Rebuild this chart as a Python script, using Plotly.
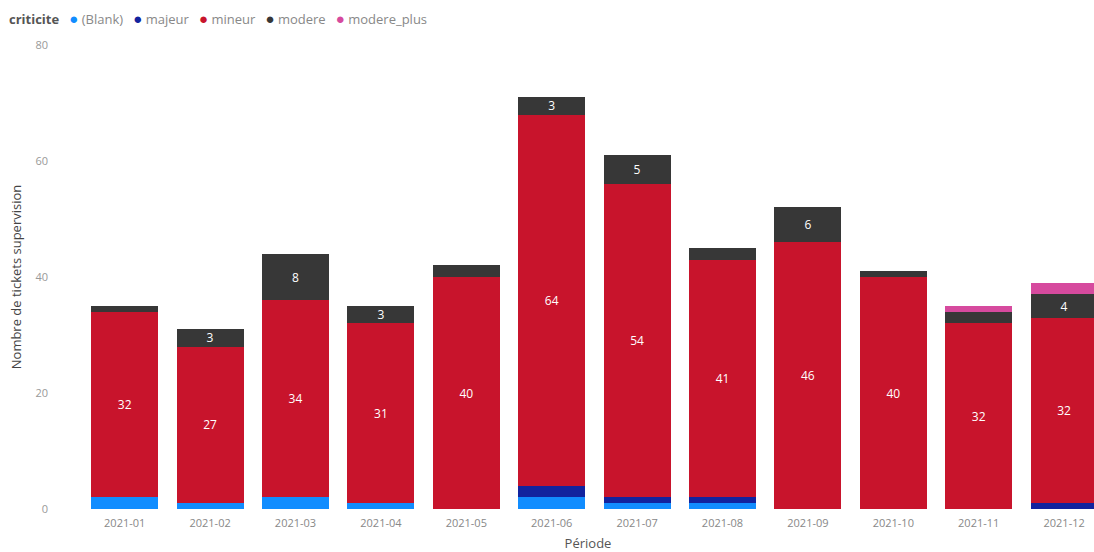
import plotly.graph_objects as go

periods = ["2021-01", "2021-02", "2021-03", "2021-04", "2021-05", "2021-06",
           "2021-07", "2021-08", "2021-09", "2021-10", "2021-11", "2021-12"]
blank = [2, 1, 2, 1, 0, 2, 1, 1, 0, 0, 0, 0]
majeur = [0, 0, 0, 0, 0, 2, 1, 1, 0, 0, 0, 1]
mineur = [32, 27, 34, 31, 40, 64, 54, 41, 46, 40, 32, 32]
modere = [1, 3, 8, 3, 2, 3, 5, 2, 6, 1, 2, 4]
modere_plus = [0, 0, 0, 0, 0, 0, 0, 0, 0, 0, 1, 2]

series = [
    ("(Blank)", blank, "#118DFF", 99),
    ("majeur", majeur, "#12239E", 99),
    ("mineur", mineur, "#C8142C", 10),
    ("modere", modere, "#373737", 3),
    ("modere_plus", modere_plus, "#D64A9E", 99),
]

fig = go.Figure()
for name, vals, color, minlab in series:
    texts = [str(v) if v >= minlab else "" for v in vals]
    fig.add_trace(go.Bar(
        x=periods, y=vals, name=name, marker=dict(color=color, line=dict(width=0)),
        text=texts, textposition="inside", insidetextanchor="middle", textangle=0,
        constraintext="none",
        textfont=dict(color="white", size=12, family="Open Sans"),
        showlegend=False, hoverinfo="x+y+name",
    ))

# Compact legend drawn as text (Power BI style)
legend_parts = ["<b><span style='color:#555555'>criticite</span></b>&nbsp;&nbsp;&nbsp;"]
for name, vals, color, minlab in series:
    legend_parts.append(
        f"<span style='color:{color};font-size:15px'>●</span>&nbsp;"
        f"<span style='color:#888888'>{name}</span>&nbsp;&nbsp;&nbsp;"
    )
fig.add_annotation(
    text="".join(legend_parts),
    xref="paper", yref="paper", x=-75 / 1012, y=1 + 27 / 464,
    xanchor="left", yanchor="middle", showarrow=False,
    font=dict(size=13, family="Open Sans", color="#888888"),
)

fig.update_layout(
    width=1094, height=552,
    barmode="stack", bargap=0.215,
    paper_bgcolor="white", plot_bgcolor="white",
    margin=dict(l=82, r=0, t=45, b=43, autoexpand=False),
    font=dict(family="Open Sans", color="#999999", size=11),
    showlegend=False,
    xaxis=dict(
        type="category", range=[-0.5, 11.35], showgrid=False, zeroline=False,
        showline=False, ticks="", tickfont=dict(size=11, color="#888888"),
        automargin=False, ticklabelstandoff=6,
        title=dict(text="Période", font=dict(size=13, color="#555555"), standoff=10),
    ),
    yaxis=dict(
        range=[0, 80], tickvals=[0, 20, 40, 60, 80], showgrid=False, zeroline=False,
        showline=False, tickfont=dict(size=11, color="#999999"), ticks="",
        automargin=False, ticklabelstandoff=33,
        title=dict(text="Nombre de tickets supervision", font=dict(size=13, color="#444444"), standoff=10),
    ),
)

fig.write_html(
    "out.html",
    config={"displayModeBar": False},
    post_script="document.body.style.margin='0';document.body.style.overflow='hidden';",
)
